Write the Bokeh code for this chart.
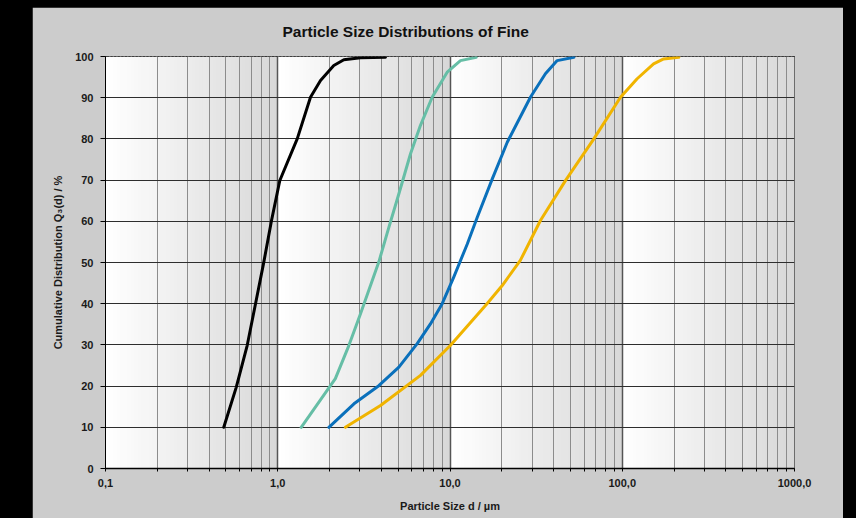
from bokeh.plotting import figure
from bokeh.models import Range1d, FixedTicker, Spacer, GlobalInlineStyleSheet
from bokeh.layouts import row, column
from bokeh.embed import file_html
from bokeh.resources import INLINE

# ---------------- data ----------------
title_text = "Particle Size Distributions of Fine"
x_label = "Particle Size d / µm"
y_label = "Cumulative Distribution Q₃(d) / %"

x_ticks = [0.1, 1.0, 10.0, 100.0, 1000.0]
x_tick_labels = ["0,1", "1,0", "10,0", "100,0", "1000,0"]
x_minor = [m * 10.0 ** k for k in (-1, 0, 1, 2) for m in range(2, 10)]
y_ticks = [0, 10, 20, 30, 40, 50, 60, 70, 80, 90, 100]

black_d = [0.486, 0.574, 0.665, 0.743, 0.830, 0.920, 1.028, 1.297, 1.549, 1.771, 2.115, 2.42, 3.02, 4.22]
black_q = [10.0, 19.7, 29.9, 40.0, 50.1, 60.2, 69.9, 80.0, 90.1, 94.2, 97.8, 99.2, 99.7, 99.8]

teal_d = [1.368, 2.16, 2.59, 3.02, 3.86, 4.42, 5.05, 5.90, 6.74, 7.88, 9.63, 11.5, 14.2]
teal_q = [10.0, 21.8, 29.9, 37.5, 50.1, 58.6, 66.7, 76.4, 83.3, 90.1, 96.2, 99.0, 99.8]

blue_d = [1.98, 2.77, 3.86, 5.05, 6.45, 7.70, 9.01, 10.5, 12.6, 14.4, 17.6, 21.5, 29.3, 35.8, 41.9, 52.4]
blue_q = [10.0, 15.7, 20.1, 24.6, 30.3, 35.1, 40.0, 46.4, 54.5, 61.0, 70.3, 79.2, 90.1, 95.8, 99.0, 99.8]

gold_d = [2.47, 3.95, 6.74, 10.07, 16.4, 20.1, 25.6, 33.5, 47.0, 68.4, 97.7, 122, 152, 174, 213]
gold_q = [10.0, 15.3, 22.6, 29.9, 40.0, 44.4, 50.5, 60.2, 70.0, 80.0, 90.1, 94.6, 98.2, 99.4, 99.8]

series = [
    (black_d, black_q, "#000000"),
    (teal_d, teal_q, "#66bea6"),
    (blue_d, blue_q, "#0a70bb"),
    (gold_d, gold_q, "#f0b400"),
]

FONT = "Liberation Sans"

# ---------------- figure ----------------
p = figure(
    width=811, height=511,
    x_axis_type="log",
    x_range=Range1d(0.1, 1000), y_range=Range1d(0, 100),
    output_backend="svg", toolbar_location=None,
    min_border_left=73, min_border_right=49,
    min_border_top=49, min_border_bottom=50,
)
p.border_fill_color = "#cccccc"
p.background_fill_color = "#ffffff"
p.outline_line_color = "#000000"
p.outline_line_width = 1

# decade gradient background (white -> light gray inside each decade)
N = 48
lefts, rights, cols = [], [], []
for k in (-1, 0, 1, 2):
    for i in range(N):
        lefts.append(10.0 ** (k + i / N))
        rights.append(10.0 ** (k + (i + 1.4) / N))
        v = int(round(255 - (255 - 216) * (i + 0.5) / N))
        cols.append("#%02x%02x%02x" % (v, v, v))
p.quad(left=lefts, right=rights, bottom=0, top=100, fill_color=cols,
       line_color=None, level="image")

# title
p.title.text = title_text
p.title.align = "left"
p.title.vertical_align = "top"
p.title.offset = 177
p.title.standoff = 30
p.title.text_font = FONT
p.title.text_font_size = "15.5px"
p.title.text_font_style = "bold"
p.title.text_color = "#111111"

# x axis
xa = p.xaxis[0]
xa.ticker = FixedTicker(ticks=x_ticks, minor_ticks=x_minor)
xa.major_label_overrides = {t: l for t, l in zip(x_ticks, x_tick_labels)}
xa.axis_label = x_label
xa.axis_line_color = "#000000"
xa.axis_line_width = 1.5
xa.major_tick_in = 0
xa.major_tick_out = 3
xa.minor_tick_in = 0
xa.minor_tick_out = 3
xa.major_tick_line_color = "#000000"
xa.minor_tick_line_color = "#000000"
xa.major_label_standoff = 7
xa.axis_label_standoff = 10

# y axis
ya = p.yaxis[0]
ya.ticker = FixedTicker(ticks=y_ticks, minor_ticks=[])
ya.axis_label = y_label
ya.axis_line_color = "#000000"
ya.major_tick_in = 0
ya.major_tick_out = 5
ya.minor_tick_line_color = None
ya.major_tick_line_color = "#000000"
ya.major_label_standoff = 7
ya.axis_label_standoff = 8

for ax in (xa, ya):
    ax.major_label_text_font = FONT
    ax.major_label_text_font_size = "11px"
    ax.major_label_text_font_style = "bold"
    ax.major_label_text_color = "#1a1a1a"
    ax.axis_label_text_font = FONT
    ax.axis_label_text_font_size = "11px"
    ax.axis_label_text_font_style = "bold"
    ax.axis_label_text_color = "#1a1a1a"

# grids
p.ygrid.ticker = FixedTicker(ticks=y_ticks)
p.ygrid.grid_line_color = "#2e2e2e"
p.ygrid.grid_line_width = 1
p.xgrid.grid_line_color = "#555555"
p.xgrid.grid_line_width = 1.5
p.xgrid.minor_grid_line_color = "#8c8c8c"
p.xgrid.minor_grid_line_width = 1

# curves
for d, q, c in series:
    p.line(d, q, line_color=c, line_width=3, line_join="round", line_cap="round")

layout = column(
    Spacer(width=843, height=7),
    row(Spacer(width=32, height=511), p),
    stylesheets=[GlobalInlineStyleSheet(css="html, body { background: #000000; }")],
)

open("out.html", "w").write(file_html(layout, INLINE))
